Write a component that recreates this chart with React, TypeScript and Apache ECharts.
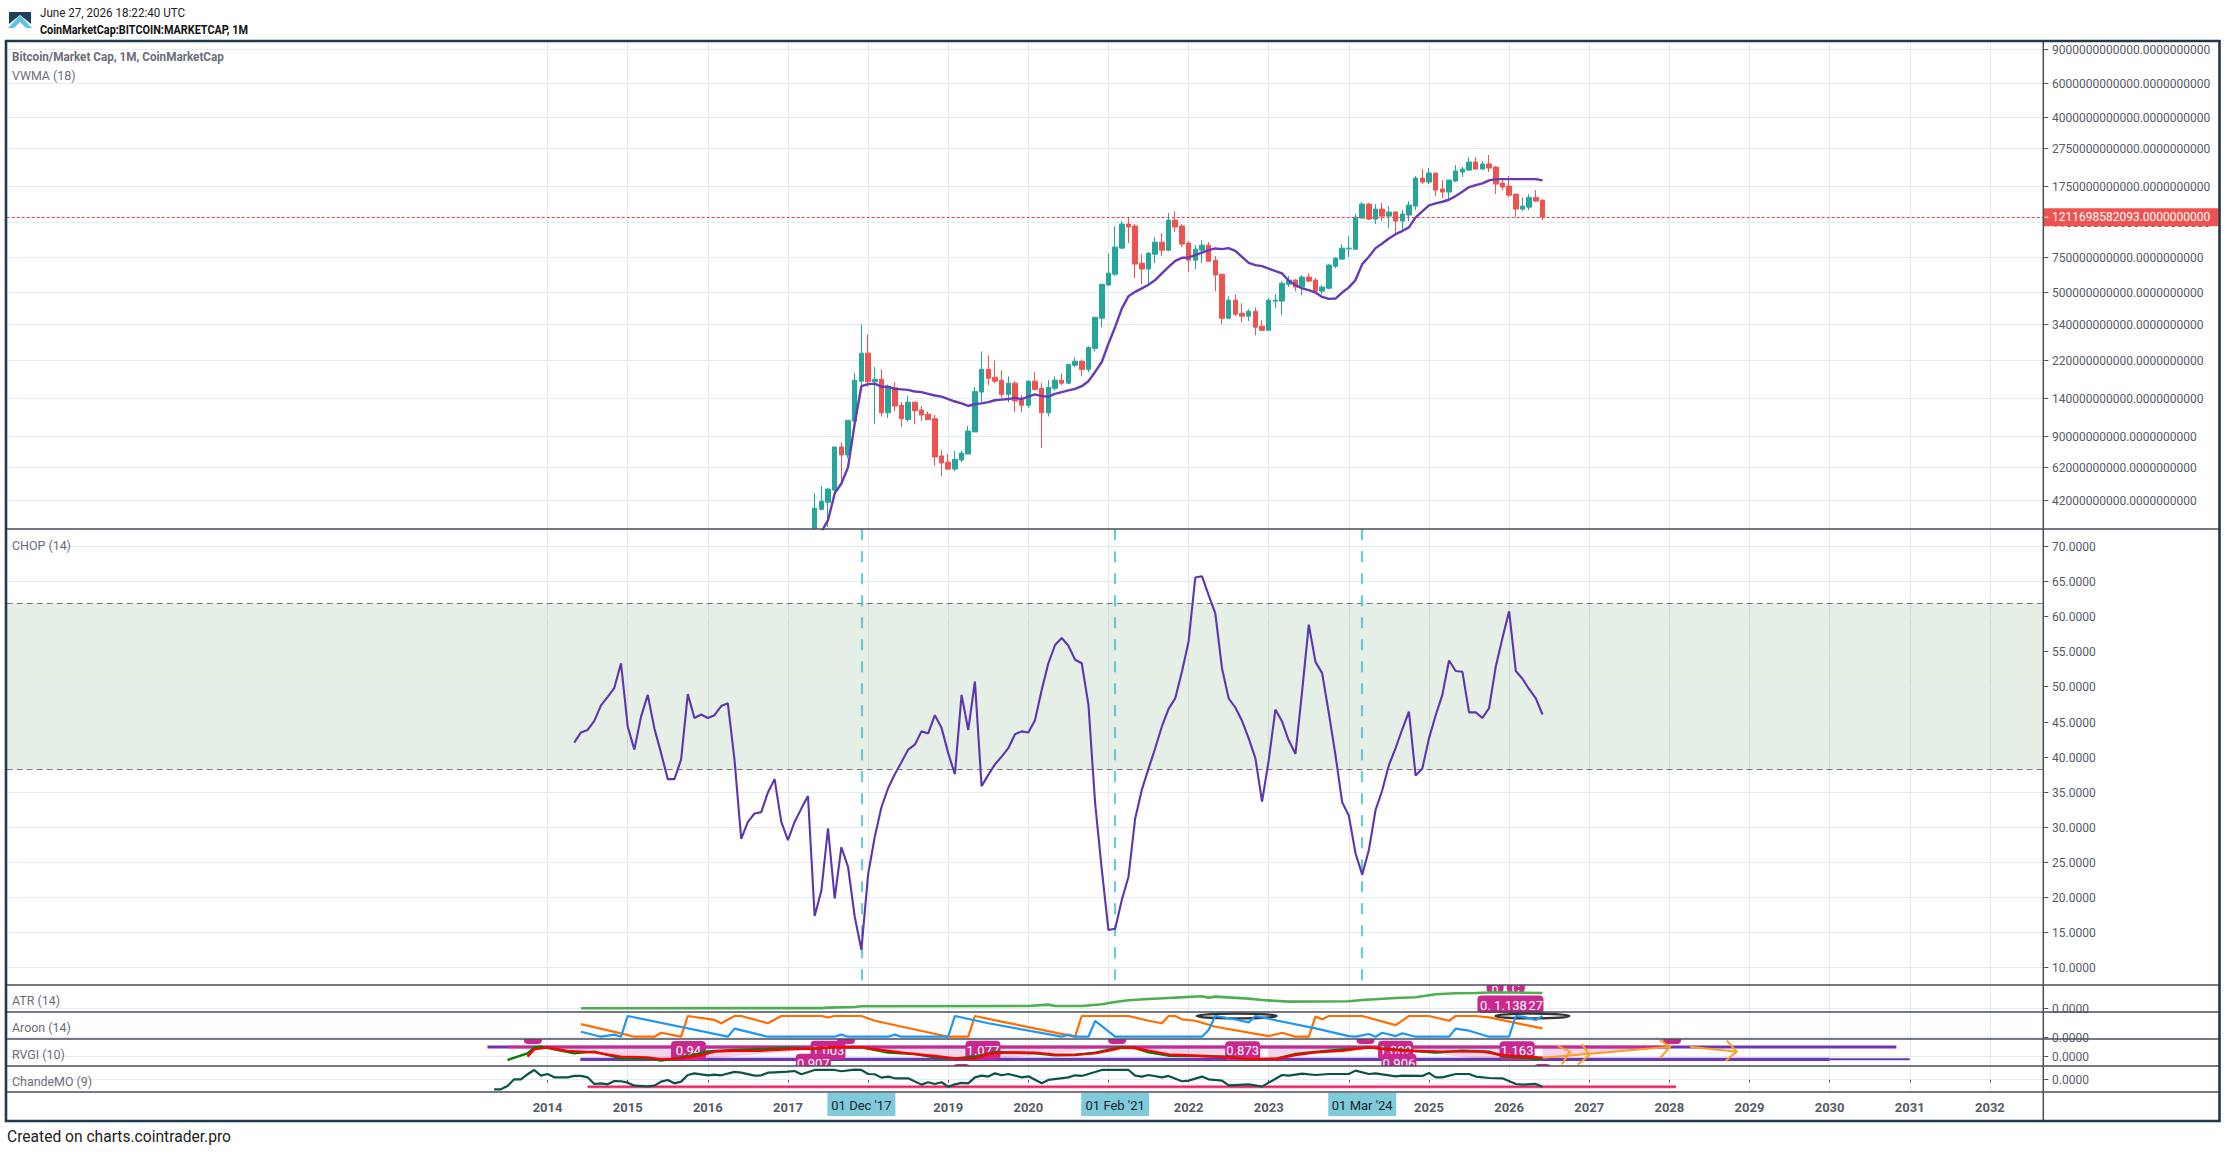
import React, { useEffect, useRef } from "react";
import * as echarts from "echarts";

// ---------- time axis ----------
const axisStartYear = 2007;
const axisStartMonth = 4;
const axisMonthCount = 306;
const months: string[] = [];
for (let i = 0; i < axisMonthCount; i++) {
  const t = axisStartYear * 12 + axisStartMonth - 1 + i;
  months.push(`${Math.floor(t / 12)}-${String((t % 12) + 1).padStart(2, "0")}`);
}
const shownYears = ["2014","2015","2016","2017","2019","2020","2022","2023","2025","2026","2027","2028","2029","2030","2031","2032"];
const firstGridMonth = "2014-01";

// ---------- price pane (values in billions of USD) ----------
const candleFirstMonth = "2017-05";
const opens = [
  29.7,37.4,40.7,47,78.6,71.4,106.8,172,
  240,171,176,118,159,129,109,134,122,116,110,70.6,
  65.6,60.4,67.3,72.2,94,151,198,180,174,147,168,137,
  129,172,158,118,158,174,168,208,218,198,254,364,
  540,615,838,1116,1090,701,653,780,900,818,1170,1090,
  890,726,818,868,726,615,364,451,386,373,395,331,
  315,446,446,546,573,527,594,573,502,520,676,735,
  831,828,1198,1416,1184,1334,1227,1287,1157,1242,1382,1930,
  1840,2048,1693,1633,1862,2072,2123,2336,2148,2280,2200,1818,
  1754,1595,1334,1365,1533,1485,
];
const closes = [
  37.9,41.2,47.6,78.6,71.4,108,174,240,
  171,176,118,159,128,110,134,121,115,109,69.7,65,
  60.4,67.8,73.1,95,152,198,178,172,147,168,136,129,
  172,156,118,160,174,168,210,218,198,257,368,545,
  622,848,1116,1077,693,653,789,900,818,1170,1077,879,
  726,828,868,717,608,364,451,382,373,395,327,315,
  451,451,552,573,527,594,566,502,527,685,744,838,
  838,1212,1416,1184,1334,1227,1287,1157,1257,1399,1930,1840,
  2048,1673,1633,1884,2098,2148,2336,2148,2280,2174,1797,1734,
  1574,1334,1382,1533,1467,1211.698582093,
];
const highs = [
  45.2,49.4,48.4,78.6,83,108,190,338,
  300,203,198,165,170,134,145,134,128,120,115,75.8,
  72.2,74.9,74.9,101,160,245,234,220,196,182,172,146,
  174,191,168,174,182,188,210,228,223,260,368,545,
  789,1090,1157,1212,1116,780,799,955,1002,1272,1300,1116,
  911,868,922,900,762,615,473,484,435,405,414,355,
  462,484,566,601,580,608,622,587,540,693,753,879,
  966,1257,1450,1433,1416,1433,1382,1302,1318,1467,1977,2150,
  2174,2048,1884,1884,2253,2200,2478,2478,2362,2540,2226,1906,
  1977,1595,1533,1595,1673,1485,
];
const lows = [
  29.7,36.9,30.3,45.2,50.9,68.6,96,162,
  161,103,113,111,120,99.6,106,103,107,108,62.7,55.6,
  59.7,59,65.7,72.2,94,134,164,168,141,134,119,119,
  125,154,77.7,113,154,164,166,203,182,191,245,327,
  533,600,838,890,587,546,546,701,762,808,1014,848,
  630,653,701,717,502,338,360,373,347,351,297,315,
  315,409,377,527,502,478,559,497,484,514,660,735,
  753,818,1184,1170,1116,1157,1064,990,1039,1157,1318,1797,
  1797,1557,1521,1479,1840,1953,2098,2123,2123,2072,1595,1673,
  1533,1212,1302,1318,1450,1170,
];
const vwmaFirstMonth = "2017-06";
const vwma = [
  28.6,32.9,45.2,50.9,61.7,104,162,
  166,167,161,161,157,156,155,152,151,148,145,143,
  139,135,132,128,131,132,134,137,138,139,141,139,
  143,147,144,143,148,151,154,157,162,172,192,216,
  269,328,408,473,498,519,542,573,620,671,720,747,
  750,771,795,818,835,828,838,811,756,704,685,676,
  657,637,620,568,540,519,508,494,469,458,460,494,
  525,573,693,756,838,886,940,990,1027,1073,1208,1298,
  1395,1427,1456,1491,1557,1640,1734,1775,1811,1877,1906,1906,
  1906,1906,1906,1906,1906,1877,
];
const priceTicks = [9000,6000,4000,2750,1750,1150,750,500,340,220,140,90,62,42];
const currentPrice = 1211.698582093;
const currentPriceLabel = "1211698582093.0000000000";

// ---------- CHOP pane ----------
const chopFirstMonth = "2014-05";
const chop = [
  42,43.45,43.8,45.1,47.3,48.5,49.8,53.3,
  44.3,41,45.7,48.8,44,40.5,36.8,36.8,39.6,48.9,45.5,46,
  45.5,45.9,47.2,47.6,39.5,28.3,30.7,31.9,32.1,34.9,36.8,30.7,
  28.1,30.7,32.6,34.4,17.3,20.9,29.8,19.8,27.1,24.3,17.2,12.5,
  23.2,28.6,32.8,35.5,37.5,39.2,41,41.7,43.6,43.3,45.9,44.1,
  40.5,37.5,48.8,43.8,50.7,35.8,37.4,38.9,40,41.2,43.2,43.6,
  43.45,45.2,49.5,53.3,55.9,56.9,55.8,53.8,53.3,47.4,33.4,23.9,
  15.3,15.5,19.6,22.9,31.2,35.3,38.3,41.2,44.3,46.8,48.3,52.1,
  56.4,65.5,65.7,63,60.4,52.6,48.3,47,45.1,42.6,39.8,33.6,
  39.5,46.7,45,42.3,40.4,49.3,58.8,53.5,51.9,46.2,40.2,33.5,
  31.6,26.2,23.2,26.7,32.4,35.2,38.8,41.2,43.9,46.4,37.3,38.3,
  42.6,45.9,48.8,53.7,52.2,52.1,46.3,46.3,45.5,46.9,52.8,56.9,
  60.7,52.2,51.1,49.6,48.3,46,
];
const chopTicks = [70,65,60,55,50,45,40,35,30,25,20,15,10];
const chopBand = [61.8, 38.2];
const markedMonths = ["2017-12", "2021-02", "2024-03"];
const markedLabels = ["01 Dec '17", "01 Feb '21", "01 Mar '24"];

// ---------- ATR pane ----------
const atrMonths = ["2014-06","2017-06","2017-07","2017-11","2017-12","2020-01","2020-04","2020-05","2020-09","2020-12","2021-02","2021-04","2021-07","2021-10","2021-11","2022-03","2022-04","2022-05","2022-10","2022-12","2023-04","2024-01","2024-03","2024-08","2024-11","2025-02","2025-05","2025-08","2025-11","2026-06"];
const atrValues = [2,3,12,25,37,43,68,43,43,74,117,147,172,190,196,221,196,215,178,153,123,129,153,190,203,258,276,282,295,282];

// ---------- Aroon pane ----------
const aroonUpMonths = ["2014-06","2014-12","2015-02","2015-05","2015-06","2015-09","2015-10","2016-02","2016-03","2016-05","2016-06","2016-10","2016-12","2017-06","2017-07","2017-08","2017-12","2018-02","2019-01","2019-04","2019-05","2019-09","2020-08","2020-09","2021-04","2021-07","2021-09","2021-10","2021-11","2021-12","2022-02","2022-05","2023-01","2023-03","2023-05","2023-07","2023-08","2023-09","2023-10","2024-03","2024-08","2024-10","2025-01","2025-04","2025-05","2025-08","2025-10","2026-06"];
const aroonUp = [61,16,0,0,19,0,100,81,65,100,100,65,100,100,93,100,100,77,0,0,100,73,0,100,100,77,65,100,100,84,77,48,3,19,0,0,97,84,100,100,56,100,100,77,100,100,93,40];
const aroonDownMonths = ["2014-06","2014-09","2014-11","2014-12","2015-01","2016-04","2016-05","2016-10","2017-08","2017-09","2017-10","2018-04","2018-05","2018-06","2019-01","2019-02","2019-07","2020-06","2020-07","2020-08","2020-10","2020-11","2021-02","2021-07","2022-03","2022-04","2022-05","2022-08","2022-10","2022-11","2023-08","2024-01","2024-02","2024-04","2024-05","2024-06","2024-08","2024-09","2024-11","2025-04","2025-05","2025-07","2025-10","2026-01","2026-02","2026-03","2026-05","2026-06"];
const aroonDown = [24,0,10,0,100,0,39,0,0,10,0,0,10,0,0,100,65,0,10,0,0,76,0,0,0,32,100,84,69,100,40,3,0,13,0,19,3,16,0,0,39,29,0,0,100,97,81,100];

// ---------- RVGI pane ----------
const rvgiMonths = ["2013-07","2013-10","2013-11","2013-12","2014-02","2014-05","2014-08","2014-12","2015-04","2015-06","2015-09","2016-01","2016-05","2016-09","2017-01","2017-04","2017-08","2017-12","2018-04","2018-08","2018-11","2019-02","2019-05","2019-08","2020-02","2020-05","2020-08","2020-11","2021-03","2021-05","2021-07","2021-10","2022-03","2022-07","2022-10","2023-02","2023-05","2023-08","2023-12","2024-04","2024-09","2025-02","2025-06","2025-10","2025-12","2026-06"];
const rvgiValues = [-.148,.082,.289,.311,.22,.082,.139,-.091,-.091,-.171,-.068,.151,.196,.231,.266,.231,.289,.289,.105,.059,-.056,-.091,-.033,.128,.082,.013,.024,.105,.3,.266,.116,.001,-.01,-.033,-.125,-.113,.059,.128,.22,.278,.196,.105,.174,.139,-.01,-.113];
const rvgiSignalMonths = ["2013-10","2013-11","2014-01","2014-04","2014-08","2014-12","2015-04","2015-06","2015-09","2015-12","2016-02","2016-05","2016-09","2017-01","2017-04","2017-08","2017-12","2018-03","2018-07","2018-11","2019-02","2019-05","2019-07","2019-10","2020-02","2020-05","2020-08","2020-11","2021-02","2021-03","2021-05","2021-07","2021-10","2022-03","2022-07","2022-10","2023-02","2023-05","2023-08","2023-12","2024-04","2024-09","2025-02","2025-09","2025-12","2026-06"];
const rvgiSignal = [-.033,.22,.289,.162,.116,-.033,-.056,-.125,-.091,.024,.139,.173,.173,.22,.243,.289,.289,.196,.082,-.01,-.091,-.091,.059,.116,.105,.036,.036,.082,.22,.278,.266,.173,.047,-.01,-.056,-.113,-.113,.024,.116,.173,.289,.173,.151,.139,.024,-.068];
// divergence annotations; m = months after January 2014
const divHigh = 0.3;
const divLow = -0.124;
const divWedges: number[][][] = [
  [[1,divHigh],[21,divHigh],[21,divLow],[14,divLow]],
  [[23,divLow],[44,divHigh],[23,divHigh]],
  [[46,divHigh],[65,divHigh],[65,divLow],[60,divLow]],
  [[67,divLow],[85,divHigh],[67,divHigh]],
  [[87,divHigh],[105,divHigh],[105,divLow],[100,divLow]],
  [[108,divLow],[122,divHigh],[108,divHigh]],
  [[124,divHigh],[146,divHigh],[146,divLow],[140,divLow]],
  [[149,divLow],[168,divHigh],[149,divHigh]],
];
const rvgiTagM = [21.1,42,39.8,65.2,104.1,127.0,127.5,145.2];
const rvgiTagV = [.18,.19,-.26,.19,.17,.19,-.26,.17];
const rvgiTagText = ["0.94","1.003","0.907","1.077","0.873","1.002","0.906","1.163"];
const rvgiBumpM = [-2.2,44.7,85.3,122.5,168.4];
const rvgiLowBumpM = [62,149];
const arrowShafts: number[][][] = [
  [[149.1,-.07],[168.1,.31]],
  [[171.1,.31],[178.1,.14]],
];
const arrowHeads: number[][][] = [
  [[151.2,.345],[153.1,.14],[151.9,-.3]],
  [[154.9,.4],[156,.024],[154.3,-.3]],
  [[166.6,.54],[168.1,.31],[166.6,-.09]],
  [[176.6,.517],[178.1,.14],[176.4,-.18]],
];

// ---------- Chande pane ----------
const chandeMonths = ["2013-05","2013-06","2013-07","2013-08","2013-09","2013-10","2013-11","2013-12","2014-01","2014-02","2014-04","2014-05","2014-06","2014-07","2014-08","2014-09","2014-10","2014-11","2014-12","2015-01","2015-02","2015-04","2015-05","2015-06","2015-07","2015-08","2015-09","2015-10","2015-11","2016-01","2016-02","2016-03","2016-05","2016-06","2016-08","2016-09","2016-10","2016-11","2017-01","2017-02","2017-03","2017-05","2017-08","2017-09","2017-11","2017-12","2018-01","2018-02","2018-03","2018-04","2018-05","2018-07","2018-09","2018-10","2018-11","2018-12","2019-01","2019-02","2019-03","2019-04","2019-05","2019-06","2019-07","2019-08","2019-09","2019-10","2019-12","2020-01","2020-03","2020-04","2020-07","2020-08","2020-09","2020-12","2021-04","2021-05","2021-06","2021-07","2021-09","2021-10","2021-12","2022-01","2022-03","2022-04","2022-06","2022-07","2022-10","2022-12","2023-01","2023-03","2023-04","2023-06","2023-08","2023-10","2024-01","2024-02","2024-04","2024-05","2024-08","2024-09","2024-12","2025-01","2025-02","2025-03","2025-05","2025-07","2025-08","2025-10","2025-12","2026-02","2026-03","2026-05","2026-06"];
const chandeValues = [-107,-107,-71,0,0,54,100,39,57,21,21,36,36,21,-50,-43,-54,-18,-21,-36,-68,-75,-68,-25,-7,-43,-25,46,64,43,50,43,79,71,39,43,71,75,82,89,54,100,100,86,104,100,57,54,18,29,11,11,-57,-32,-50,-32,-79,-54,-39,-43,21,39,29,64,43,57,21,32,-43,-7,21,43,36,100,100,39,29,46,21,36,-21,-14,29,0,-14,-64,-54,-79,-36,46,39,61,46,57,57,93,57,64,32,39,36,68,21,21,57,57,29,14,11,-50,-57,-50,-79];
const chandeLevel = -79;
const chandeLevelFromM = 6;
const chandeLevelToM = 169;

const zeroTick = [0];
const LEFT = 6.7;
const AXIS_X = 2043.3;
const RIGHT = 2219;
const paneTops = [41, 529, 985, 1012, 1039, 1066];
const paneHeights = [488, 456, 27, 27, 27, 26];
const paneMin = [29.6, 7.48, -68, -11.1, -0.355, -136];
const paneMax = [9864, 72.42, 429, 119.3, 0.576, 142.5];

const GRID = "#e2ebf1";
const AXIS_TEXT = "#565b67";
const PANE_LINE = "#4a4e5a";
const FRAME = "#1f3a50";
const UP = "#26a69a";
const DOWN = "#ef5350";
const MAGENTA = "#c9288f";
const FONT = "Roboto";

const pairs = (ms: string[], vs: number[]) => ms.map((m, i) => [m, vs[i]]);
const fromMonth = (first: string, vs: number[]) => {
  const start = months.indexOf(first);
  return vs.map((v, i) => [months[start + i], v]);
};
const idx2014 = months.indexOf("2014-01");
const xAt = (api: any, m: number) => {
  const i = idx2014 + m;
  const f = Math.floor(i);
  const a = api.coord([f, 0])[0];
  const b = api.coord([f + 1, 0])[0];
  return a + (b - a) * (i - f);
};
const isYearStart = (_: number, v: string) => v.endsWith("-01") && v >= firstGridMonth;

const text = (x: number, y: number, t: string, o: any = {}) => ({
  type: "text", x, y, z: 60, silent: true, scaleX: o.scaleX ?? 1,
  style: { text: t, fill: o.fill ?? "#6a6e79", fontFamily: FONT, fontSize: o.size ?? 13, fontWeight: o.weight ?? "normal", align: o.align ?? "left", verticalAlign: "middle" },
});
const hline = (y: number) => ({ type: "line", z: 55, silent: true, shape: { x1: 5, y1: y, x2: RIGHT, y2: y }, style: { stroke: PANE_LINE, lineWidth: 1.5 } });
const whiteText = (x: number, y: number, t: string) => ({ type: "text", x, y, style: { text: t, fill: "#fff", fontFamily: FONT, fontSize: 13, align: "center", verticalAlign: "middle" } });

function tickSeries(i: number, ticks: number[], label: (v: number) => string) {
  return {
    type: "custom", xAxisIndex: i, yAxisIndex: i, z: 1, silent: true, clip: false,
    data: [[0, ticks[0]]],
    renderItem: (_: any, api: any) => ({
      type: "group",
      children: ticks.flatMap((t) => {
        const y = Math.round(api.coord([0, t])[1]) + 0.5;
        return [
          { type: "line", shape: { x1: LEFT, y1: y, x2: AXIS_X, y2: y }, style: { stroke: GRID, lineWidth: 1 } },
          { type: "line", shape: { x1: AXIS_X + 1, y1: y, x2: AXIS_X + 5, y2: y }, style: { stroke: PANE_LINE, lineWidth: 1 } },
          { type: "text", x: 2052, y, style: { text: label(t), fill: AXIS_TEXT, fontFamily: FONT, fontSize: 12, align: "left", verticalAlign: "middle" } },
        ];
      }),
    }),
  };
}
const pill = (x: number, y: number, w: number, t: string) => {
  const out: any[] = [{ type: "rect", shape: { x: x - w / 2, y: y - 9.5, width: w, height: 19, r: 4 }, style: { fill: MAGENTA } }];
  if (t) out.push(whiteText(x, y, t));
  return out;
};

function buildOption() {
  const candleStart = months.indexOf(candleFirstMonth);
  const candleRows = opens.map((o, i) => [months[candleStart + i], o, closes[i], lows[i], highs[i]]);
  const grids = paneTops.map((t, i) => ({ left: LEFT, width: AXIS_X - LEFT, top: t, height: paneHeights[i], containLabel: false }));
  const xAxes = paneTops.map((_, i) => ({
    type: "category", gridIndex: i, data: months, boundaryGap: false,
    axisLine: { show: false },
    axisTick: i === 5 ? { show: true, interval: isYearStart, length: 3, lineStyle: { color: PANE_LINE } } : { show: false },
    axisLabel: i === 5
      ? { show: true, margin: 9, fontFamily: FONT, fontSize: 13, fontWeight: "bold", color: AXIS_TEXT, hideOverlap: false,
          interval: (_: number, v: string) => v.endsWith("-01") && shownYears.includes(v.slice(0, 4)),
          formatter: (v: string) => v.slice(0, 4) }
      : { show: false },
    splitLine: { show: true, interval: isYearStart, lineStyle: { color: GRID, width: 1 } },
  }));
  const yAxes = paneTops.map((_, i) => ({
    type: i === 0 ? "log" : "value", logBase: 10, gridIndex: i, min: paneMin[i], max: paneMax[i], show: false,
    splitLine: { show: false },
  }));

  const line = (i: number, data: any[], color: string, width: number, z = 3, name = "") => ({
    type: "line", name, xAxisIndex: i, yAxisIndex: i, data, z, showSymbol: false, symbol: "none", silent: true,
    lineStyle: { color, width }, itemStyle: { color }, clip: true,
  });

  const series: any[] = [
    tickSeries(0, priceTicks, (v) => (v * 1e9).toFixed(10)),
    tickSeries(1, chopTicks, (v) => v.toFixed(4)),
    tickSeries(2, zeroTick, (v) => v.toFixed(4)),
    tickSeries(3, zeroTick, (v) => v.toFixed(4)),
    tickSeries(4, zeroTick, (v) => v.toFixed(4)),
    tickSeries(5, zeroTick, (v) => v.toFixed(4)),
    {
      type: "candlestick", name: "Bitcoin/Market Cap", xAxisIndex: 0, yAxisIndex: 0, z: 3, barWidth: 5, silent: true, clip: true,
      data: candleRows, encode: { x: 0, y: [1, 2, 3, 4] },
      itemStyle: { color: UP, color0: DOWN, borderColor: UP, borderColor0: DOWN, borderWidth: 1 },
      markLine: {
        silent: true, symbol: "none", animation: false, label: { show: false },
        lineStyle: { color: "#f44336", type: [3, 2], width: 1 },
        data: [{ yAxis: currentPrice }],
      },
    },
    line(0, fromMonth(vwmaFirstMonth, vwma), "#673ab7", 2.4, 4, "VWMA"),
    {
      type: "custom", xAxisIndex: 0, yAxisIndex: 0, z: 12, silent: true, clip: false, data: [[0, currentPrice]],
      renderItem: (_: any, api: any) => {
        const y = api.coord([0, currentPrice])[1];
        return { type: "group", children: [
          { type: "rect", shape: { x: AXIS_X, y: y - 9, width: RIGHT - AXIS_X - 0.5, height: 18 }, style: { fill: DOWN } },
          { type: "line", shape: { x1: AXIS_X + 1, y1: y, x2: AXIS_X + 5, y2: y }, style: { stroke: "#fff", lineWidth: 1 } },
          { type: "text", x: 2052, y, style: { text: currentPriceLabel, fill: "#fff", fontFamily: FONT, fontSize: 12, align: "left", verticalAlign: "middle" } },
        ] };
      },
    },
    {
      ...line(1, fromMonth(chopFirstMonth, chop), "#5e35b1", 2.1, 5, "CHOP"),
      markArea: { silent: true, animation: false, itemStyle: { color: "rgba(46,125,50,0.12)" }, data: [[{ yAxis: chopBand[0] }, { yAxis: chopBand[1] }]] },
      markLine: {
        silent: true, symbol: "none", animation: false, label: { show: false },
        data: [
          { yAxis: chopBand[0], lineStyle: { color: "#787c78", type: [6, 4], width: 1 } },
          { yAxis: chopBand[1], lineStyle: { color: "#787c78", type: [6, 4], width: 1 } },
          ...markedMonths.map((m) => [
            { coord: [m, 72.4], lineStyle: { color: "rgba(70,190,205,0.8)", type: [11, 11], width: 2.2 } },
            { coord: [m, 8.1] },
          ]),
        ],
      },
    },
    // ATR annotations
    {
      type: "custom", xAxisIndex: 2, yAxisIndex: 2, z: 2, silent: true, clip: true, data: [[0, 0]],
      renderItem: (_: any, api: any) => {
        const xc = xAt(api, 144.2);
        const y = api.coord([0, 60])[1];
        const yTop = api.coord([0, 466])[1];
        const xN = xAt(api, 141.9);
        const xC = xAt(api, 145);
        return { type: "group", children: [
          ...pill(xc, y, 66, "1.138"),
          whiteText(xc - 25, y, "0."),
          whiteText(xc + 25, y, "27"),
          ...pill(xN, yTop, 17, ""),
          ...pill(xC, yTop, 18, ""),
          whiteText(xN, yTop + 6, "n"),
          whiteText(xC, yTop + 6, "C"),
        ] };
      },
    },
    line(2, pairs(atrMonths, atrValues), "#4caf50", 2.6, 3, "ATR"),
    // Aroon annotations
    {
      type: "custom", xAxisIndex: 3, yAxisIndex: 3, z: 2, silent: true, clip: true, data: [[0, 0]],
      renderItem: (_: any, api: any) => {
        const y = api.coord([0, 100])[1];
        const piece = api.coord([0, 160])[1];
        return { type: "group", children: [
          { type: "rect", shape: { x: xAt(api, 139.4), y: piece - 9.5, width: 66, height: 19, r: 4 }, style: { fill: MAGENTA } },
          { type: "ellipse", shape: { cx: xAt(api, 103.2), cy: y, rx: 40, ry: 2.4 }, style: { fill: "none", stroke: "#333", lineWidth: 2.4 } },
          { type: "ellipse", shape: { cx: xAt(api, 147.5), cy: y, rx: 37, ry: 2.4 }, style: { fill: "none", stroke: "#333", lineWidth: 2.4 } },
        ] };
      },
    },
    line(3, pairs(aroonUpMonths, aroonUp), "#ff6d00", 2.2, 3, "Aroon Up"),
    line(3, pairs(aroonDownMonths, aroonDown), "#2196f3", 2.2, 4, "Aroon Down"),
    // RVGI annotations
    {
      type: "custom", xAxisIndex: 4, yAxisIndex: 4, z: 2, silent: true, clip: true, data: [[0, 0]],
      renderItem: (_: any, api: any) => {
        const pt = (p: number[]) => [xAt(api, p[0]), api.coord([0, p[1]])[1]];
        const yHigh = api.coord([0, divHigh])[1];
        const yLow = api.coord([0, divLow])[1];
        const hl = (a: number, b: number, y: number, c: string, w: number) => ({ type: "line", shape: { x1: xAt(api, a), y1: y, x2: xAt(api, b), y2: y }, style: { stroke: c, lineWidth: w } });
        return { type: "group", children: [
          ...divWedges.map((w) => ({ type: "polygon", shape: { points: w.map(pt) }, style: { fill: "rgba(201,40,143,0.2)" } })),
          hl(-9, 202, yHigh, "#6d35b5", 3),
          hl(4.9, 192, yLow, "#6d35b5", 3.2),
          hl(192, 204, yLow, "#6d35b5", 2),
          hl(-6, 168, yHigh, MAGENTA, 2.6),
          ...rvgiBumpM.flatMap((m) => pill(xAt(api, m), 1034.5, 18, "")),
          ...rvgiLowBumpM.flatMap((m) => pill(xAt(api, m), 1073.5, 17, "")),
          ...rvgiTagM.flatMap((m, i) => pill(xAt(api, m), api.coord([0, rvgiTagV[i]])[1], 35, rvgiTagText[i])),
        ] };
      },
    },
    line(4, pairs(rvgiMonths, rvgiValues), "#008000", 2.4, 3, "RVGI"),
    line(4, pairs(rvgiSignalMonths, rvgiSignal), "#ff0000", 2.4, 4, "Signal"),
    {
      type: "custom", xAxisIndex: 4, yAxisIndex: 4, z: 7, silent: true, clip: false, data: [[0, 0]],
      renderItem: (_: any, api: any) => {
        const pt = (p: number[]) => [xAt(api, p[0]), api.coord([0, p[1]])[1]];
        return { type: "group", children: [...arrowShafts, ...arrowHeads].map((a) => ({
          type: "polyline", shape: { points: a.map(pt) }, style: { fill: "none", stroke: "#ff9d1e", lineWidth: 2 },
        })) };
      },
    },
    // Chande pane
    {
      type: "custom", xAxisIndex: 5, yAxisIndex: 5, z: 2, silent: true, clip: true, data: [[0, 0]],
      renderItem: (_: any, api: any) => {
        const y = api.coord([0, chandeLevel])[1];
        const a = xAt(api, chandeLevelFromM), b = xAt(api, chandeLevelToM);
        return { type: "group", children: [
          { type: "line", shape: { x1: a, y1: y, x2: b, y2: y }, style: { stroke: "rgba(233,30,99,0.28)", lineWidth: 4 } },
          { type: "line", shape: { x1: a, y1: y, x2: b, y2: y }, style: { stroke: "#e91e63", lineWidth: 2 } },
        ] };
      },
    },
    line(5, pairs(chandeMonths, chandeValues), "#0b5345", 2.2, 3, "ChandeMO"),
    // date tags under the axis
    {
      type: "custom", xAxisIndex: 5, yAxisIndex: 5, z: 14, silent: true, clip: false, data: [[0, 0]],
      renderItem: (_: any, api: any) => ({
        type: "group",
        children: markedMonths.flatMap((m, i) => {
          const x = api.coord([m, 0])[0];
          return [
            { type: "rect", shape: { x: x - 34, y: 1093, width: 68, height: 23 }, style: { fill: "#80cbdb" } },
            { type: "text", x, y: 1105, style: { text: markedLabels[i], fill: "#1a1f26", fontFamily: FONT, fontSize: 13, align: "center", verticalAlign: "middle" } },
          ];
        }),
      }),
    },
  ];

  const graphic = [
    { type: "polygon", z: 60, silent: true, shape: { points: [[9,12],[31,12],[31,24],[20,15],[9,24]] }, style: { fill: "#1f3f5b" } },
    { type: "polygon", z: 60, silent: true, shape: { points: [[8,28],[20,15.5],[32,28],[26,28],[20,22],[14,28]] }, style: { fill: "#5cc3e2" } },
    text(40, 13, "June 27, 2026 18:22:40 UTC", { fill: "#222", size: 12.5, scaleX: 0.93 }),
    text(40, 30, "CoinMarketCap:BITCOIN:MARKETCAP, 1M", { fill: "#111", size: 12.5, weight: "bold", scaleX: 0.87 }),
    text(12, 57, "Bitcoin/Market Cap, 1M, CoinMarketCap", { weight: "bold", size: 13, scaleX: 0.9 }),
    text(12, 75, "VWMA (18)", { size: 13.5, scaleX: 0.92 }),
    text(12, 545, "CHOP (14)", { size: 13.5, scaleX: 0.92 }),
    text(12, 1000, "ATR (14)", { size: 13.5, scaleX: 0.92 }),
    text(12, 1027, "Aroon (14)", { size: 13.5, scaleX: 0.92 }),
    text(12, 1054, "RVGI (10)", { size: 13.5, scaleX: 0.92 }),
    text(12, 1081, "ChandeMO (9)", { size: 13.5, scaleX: 0.92 }),
    text(7, 1137, "Created on charts.cointrader.pro", { fill: "#222", size: 15.6 }),
    ...[529, 985, 1012, 1039, 1066, 1092].map(hline),
    { type: "line", z: 55, silent: true, shape: { x1: AXIS_X, y1: 41, x2: AXIS_X, y2: 1121 }, style: { stroke: PANE_LINE, lineWidth: 1.5 } },
    { type: "rect", z: 58, silent: true, shape: { x: 6, y: 41, width: 2213.5, height: 1080 }, style: { fill: "none", stroke: FRAME, lineWidth: 2.6 } },
  ];

  return {
    animation: false,
    backgroundColor: "#ffffff",
    textStyle: { fontFamily: FONT },
    grid: grids,
    xAxis: xAxes,
    yAxis: yAxes,
    series,
    graphic,
  };
}

export default function App() {
  const ref = useRef<HTMLDivElement | null>(null);
  useEffect(() => {
    document.body.style.margin = "0";
    document.body.style.overflow = "hidden";
    const chart = echarts.init(ref.current as HTMLDivElement, undefined, { renderer: "svg" });
    chart.setOption(buildOption() as any);
    return () => chart.dispose();
  }, []);
  return <div ref={ref} style={{ position: "absolute", left: 0, top: 0, width: 2226, height: 1152 }} />;
}
